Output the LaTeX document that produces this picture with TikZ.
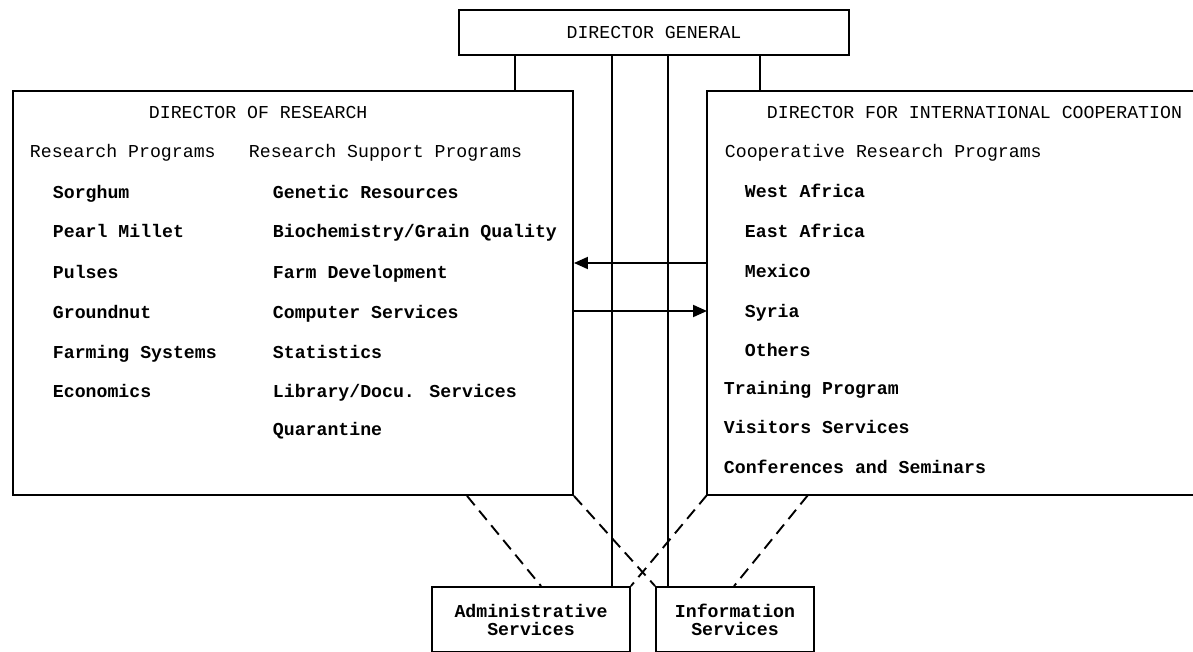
\documentclass[tikz,border=0pt]{standalone}
\usepackage{fontspec}
\newfontfamily\tw{Liberation Mono}
\usetikzlibrary{arrows.meta}
\begin{document}
\begin{tikzpicture}[x=1pt,y=-1pt,
  line width=1.9pt,
  box/.style={draw, rectangle, inner sep=0pt},
  txt/.style={anchor=base west, inner sep=0pt, font=\tw\fontsize{18.2pt}{19pt}\selectfont},
  btxt/.style={anchor=base west, inner sep=0pt, font=\tw\bfseries\fontsize{18.2pt}{19pt}\selectfont},
  dsh/.style={dash pattern=on 12pt off 7pt},
  arr/.style={-{Triangle[length=14pt,width=12pt]}}]
\useasboundingbox (0,0) rectangle (1193,652);
\fill[white] (0,0) rectangle (1193,652);

% boxes
\node[box, minimum width=390pt, minimum height=45pt, font=\tw\fontsize{18.2pt}{19pt}\selectfont] (dg) at (654,32.5) {DIRECTOR GENERAL};
\node[box, minimum width=560pt, minimum height=404pt] (dr) at (293,293) {};
\coordinate (icnw) at (707,91);
\coordinate (icsw) at (707,495);
\coordinate (icne) at (1196,91);
\coordinate (icse) at (1196,495);
\draw (icne) -- (icnw) -- (icsw) -- (icse);
\node[box, minimum width=198pt, minimum height=65pt, align=center, font=\tw\bfseries\fontsize{18.2pt}{18pt}\selectfont] (adm) at (531,619.5) {Administrative\\Services};
\node[box, minimum width=158pt, minimum height=65pt, align=center, font=\tw\bfseries\fontsize{18.2pt}{18pt}\selectfont] (inf) at (735,619.5) {Information\\Services};

% solid connectors from Director General
\coordinate (v1) at ([xshift=57pt]dg.south west);
\coordinate (v2) at ([xshift=154pt]dg.south west);
\coordinate (v3) at ([xshift=210pt]dg.south west);
\coordinate (v4) at ([xshift=302pt]dg.south west);
\draw (v1) -- (v1 |- dr.north);
\draw (v2) -- (v2 |- adm.north);
\draw (v3) -- (v3 |- inf.north);
\draw (v4) -- (v4 |- icnw);

% dashed connectors
\coordinate (d1) at ([xshift=455pt]dr.south west);
\coordinate (d2) at ([xshift=110pt]adm.north west);
\coordinate (d3) at ([xshift=101pt]icsw);
\coordinate (d4) at ([xshift=79pt]inf.north west);
\draw[dsh] (d1) -- (d2);
\draw[dsh] (dr.south east) -- (inf.north west);
\draw[dsh] (icsw) -- (adm.north east);
\draw[dsh] (d3) -- (d4);

% arrows between directors
\coordinate (a1) at ([yshift=-172pt]icnw);
\coordinate (a2) at ([yshift=-220pt]icnw);
\draw[arr] (a1) -- (a1 -| dr.east);
\draw[arr] (a2 -| dr.east) -- (a2);

% Director of Research text
\node[txt] (r0) at (148,119) {DIRECTOR OF RESEARCH};
\node[txt] (r1) at (29,158) {Research Programs};
\node[txt] (r2) at (248,158) {Research Support Programs};
\node[btxt] (p1) at (52,199) {Sorghum};
\node[btxt] (p2) at (52,238) {Pearl Millet};
\node[btxt] (p3) at (52,278) {Pulses};
\node[btxt] (p4) at (52,318) {Groundnut};
\node[btxt] (p5) at (52,358) {Farming Systems};
\node[btxt] (p6) at (52,397) {Economics};
\node[btxt] (s1) at (272,199) {Genetic Resources};
\node[btxt] (s2) at (272,238) {Biochemistry/Grain Quality};
\node[btxt] (s3) at (272,278) {Farm Development};
\node[btxt] (s4) at (272,318) {Computer Services};
\node[btxt] (s5) at (272,358) {Statistics};
\node[btxt] (s6) at (272,397) {Library/Docu. Services};
\node[btxt] (s7) at (272,435) {Quarantine};

% Director for International Cooperation text
\node[txt] (c0) at (766,119) {DIRECTOR FOR INTERNATIONAL COOPERATION};
\node[txt] (c1) at (724,158) {Cooperative Research Programs};
\node[btxt] (c2) at (744,198) {West Africa};
\node[btxt] (c3) at (744,237) {East Africa};
\node[btxt] (c4) at (744,277) {Mexico};
\node[btxt] (c5) at (744,317) {Syria};
\node[btxt] (c6) at (744,356) {Others};
\node[btxt] (c7) at (723,394) {Training Program};
\node[btxt] (c8) at (723,433) {Visitors Services};
\node[btxt] (c9) at (723,473) {Conferences and Seminars};
\end{tikzpicture}
\end{document}
